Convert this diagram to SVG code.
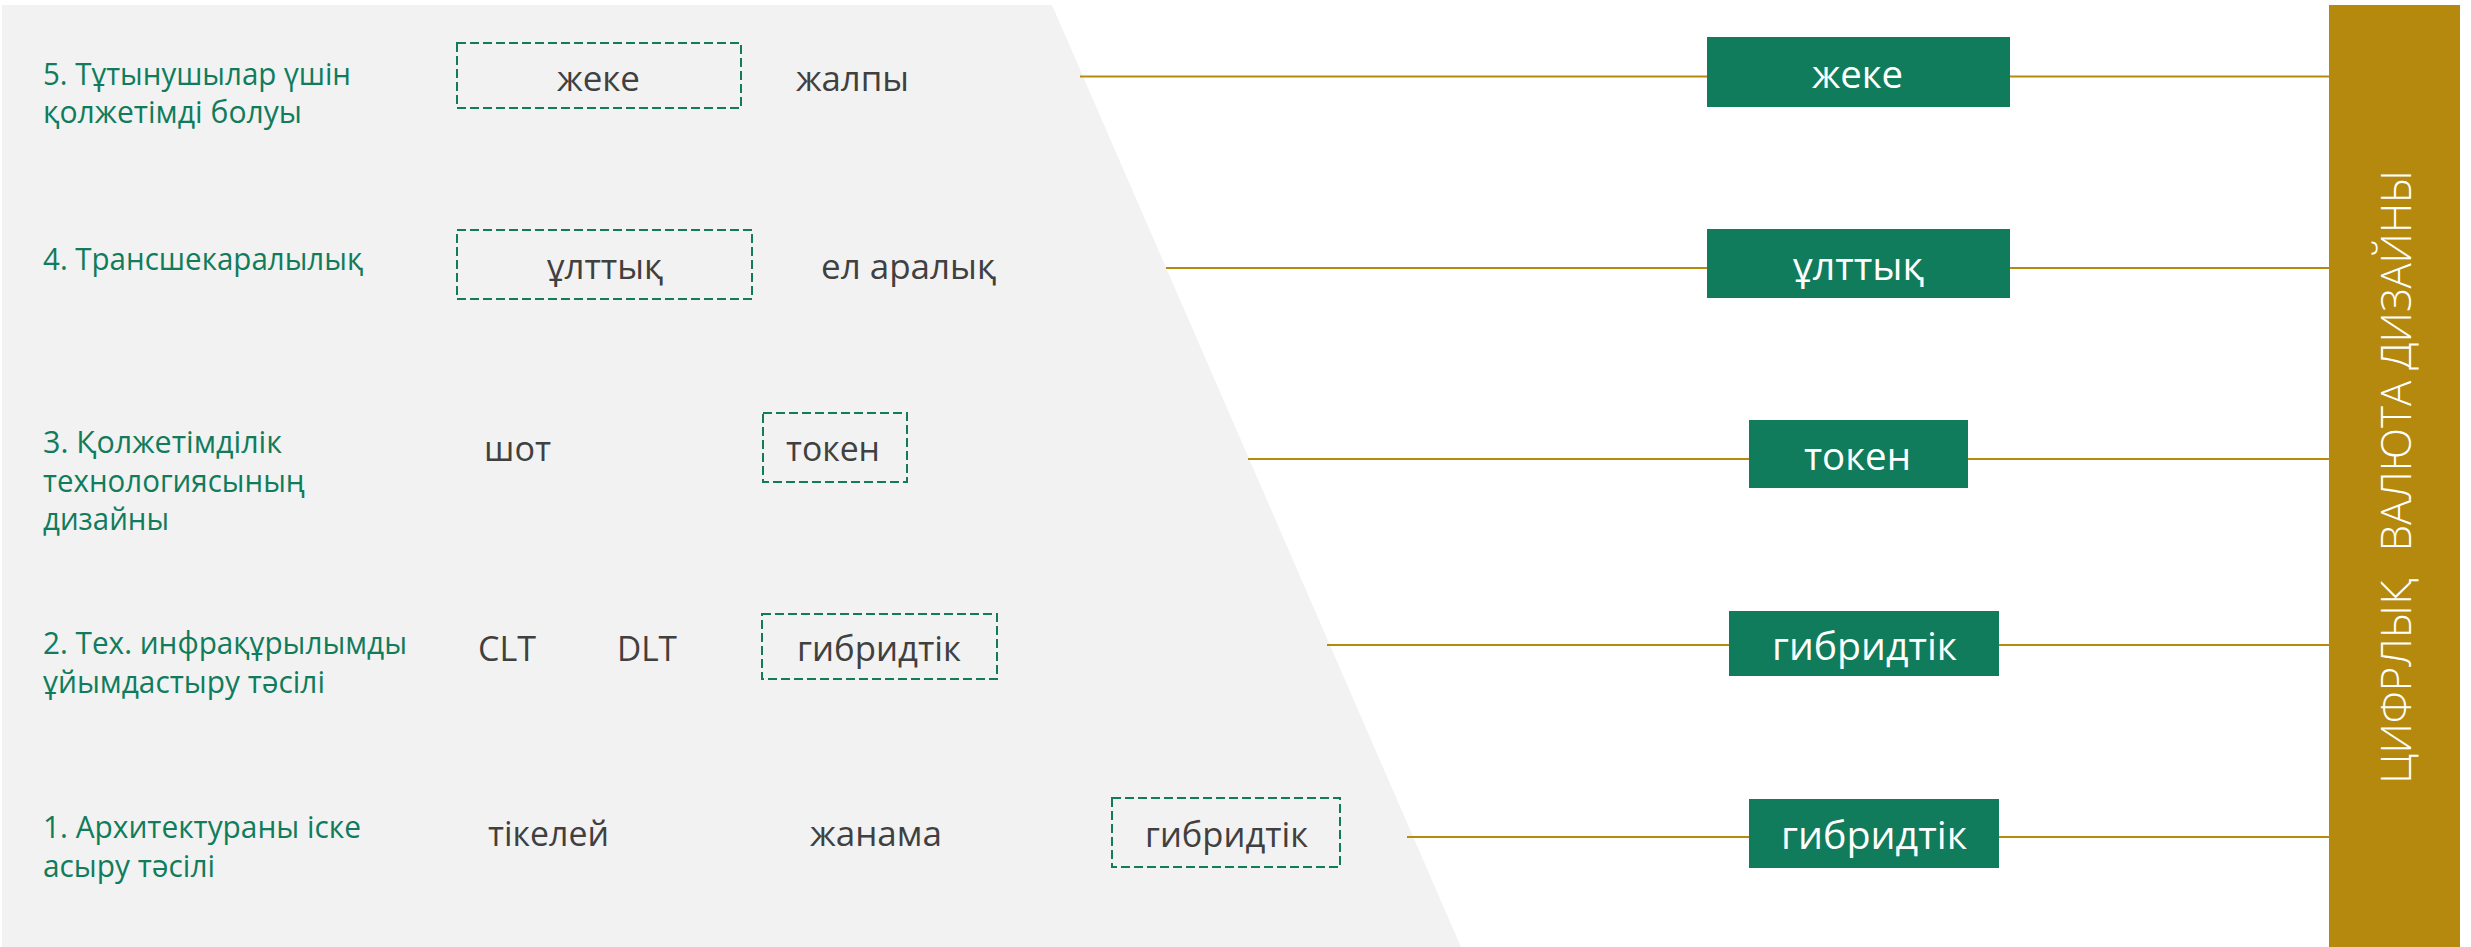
<svg xmlns="http://www.w3.org/2000/svg" width="2471" height="947" viewBox="0 0 2471 947">
<style>
text{font-family:"Open Sans","Noto Sans","DejaVu Sans",sans-serif}
.lbl{font-size:31px;fill:#107C5C}
.opt{font-size:35px;fill:#404040}
.sel{fill:none;stroke:#107C5C;stroke-width:2;stroke-dasharray:9 4}
.box{fill:#107C5C}
.boxt{font-size:38px;fill:#FFFFFF}
.conn{stroke:#B58A0E;stroke-width:2}
.bar{fill:#B5890E}
.bart{font-size:42px;font-weight:300;fill:#FFFFFF}
</style>
<rect x="0" y="0" width="2471" height="947" fill="#FFFFFF"/>
<polygon points="2,5 1052,5 1461,947 2,947" fill="#F2F2F2"/>
<g id="connectors">
<line class="conn" x1="1080" y1="76.5" x2="2329" y2="76.5"/>
<line class="conn" x1="1166" y1="268" x2="2329" y2="268"/>
<line class="conn" x1="1248" y1="459" x2="2329" y2="459"/>
<line class="conn" x1="1327" y1="645" x2="2329" y2="645"/>
<line class="conn" x1="1407" y1="837" x2="2329" y2="837"/>
</g>
<g id="row5">
<text class="lbl" x="43" y="84.5" textLength="308" lengthAdjust="spacingAndGlyphs">5. Тұтынушылар үшін</text>
<text class="lbl" x="43" y="123" textLength="259" lengthAdjust="spacingAndGlyphs">қолжетімді болуы</text>
<rect class="sel" x="457" y="43" width="284" height="65"/>
<text class="opt" x="557" y="91" textLength="83" lengthAdjust="spacingAndGlyphs">жеке</text>
<text class="opt" x="796" y="91" textLength="113" lengthAdjust="spacingAndGlyphs">жалпы</text>
</g>
<g id="row4">
<text class="lbl" x="43" y="270" textLength="320" lengthAdjust="spacingAndGlyphs">4. Трансшекаралылық</text>
<rect class="sel" x="457" y="230" width="295" height="69"/>
<text class="opt" x="547" y="279" textLength="116" lengthAdjust="spacingAndGlyphs">ұлттық</text>
<text class="opt" x="821" y="279" textLength="175" lengthAdjust="spacingAndGlyphs">ел аралық</text>
</g>
<g id="row3">
<text class="lbl" x="43" y="453" textLength="239" lengthAdjust="spacingAndGlyphs">3. Қолжетімділік</text>
<text class="lbl" x="43" y="492" textLength="262" lengthAdjust="spacingAndGlyphs">технологиясының</text>
<text class="lbl" x="43" y="530" textLength="126" lengthAdjust="spacingAndGlyphs">дизайны</text>
<text class="opt" x="484" y="461" textLength="67" lengthAdjust="spacingAndGlyphs">шот</text>
<rect class="sel" x="763" y="413" width="144" height="69"/>
<text class="opt" x="786" y="461" textLength="94" lengthAdjust="spacingAndGlyphs">токен</text>
</g>
<g id="row2">
<text class="lbl" x="43" y="654" textLength="364" lengthAdjust="spacingAndGlyphs">2. Тех. инфрақұрылымды</text>
<text class="lbl" x="43" y="693" textLength="282" lengthAdjust="spacingAndGlyphs">ұйымдастыру тәсілі</text>
<text class="opt" x="478" y="661" textLength="58" lengthAdjust="spacingAndGlyphs">CLT</text>
<text class="opt" x="617" y="661" textLength="60" lengthAdjust="spacingAndGlyphs">DLT</text>
<rect class="sel" x="762" y="614" width="235" height="65"/>
<text class="opt" x="797" y="661" textLength="164" lengthAdjust="spacingAndGlyphs">гибридтік</text>
</g>
<g id="row1">
<text class="lbl" x="43" y="838" textLength="318" lengthAdjust="spacingAndGlyphs">1. Архитектураны іске</text>
<text class="lbl" x="43" y="877" textLength="172" lengthAdjust="spacingAndGlyphs">асыру тәсілі</text>
<text class="opt" x="488" y="846" textLength="121" lengthAdjust="spacingAndGlyphs">тікелей</text>
<text class="opt" x="810" y="846" textLength="132" lengthAdjust="spacingAndGlyphs">жанама</text>
<rect class="sel" x="1112" y="798" width="228" height="69"/>
<text class="opt" x="1145" y="847" textLength="163" lengthAdjust="spacingAndGlyphs">гибридтік</text>
</g>
<g id="result5">
<rect class="box" x="1707" y="37" width="303" height="70"/>
<text class="boxt" x="1812" y="88" textLength="91" lengthAdjust="spacingAndGlyphs">жеке</text>
</g>
<g id="result4">
<rect class="box" x="1707" y="229" width="303" height="69"/>
<text class="boxt" x="1793" y="280" textLength="131" lengthAdjust="spacingAndGlyphs">ұлттық</text>
</g>
<g id="result3">
<rect class="box" x="1749" y="420" width="219" height="68"/>
<text class="boxt" x="1804" y="470" textLength="107" lengthAdjust="spacingAndGlyphs">токен</text>
</g>
<g id="result2">
<rect class="box" x="1729" y="611" width="270" height="65"/>
<text class="boxt" x="1772" y="660" textLength="185" lengthAdjust="spacingAndGlyphs">гибридтік</text>
</g>
<g id="result1">
<rect class="box" x="1749" y="799" width="250" height="69"/>
<text class="boxt" x="1781" y="849" textLength="186" lengthAdjust="spacingAndGlyphs">гибридтік</text>
</g>
<g id="title">
<rect class="bar" x="2329" y="5" width="131" height="942"/>
<text class="bart" transform="translate(2411 476.5) rotate(-90)" x="0" y="0" text-anchor="middle"><tspan>ЦИФРЛЫҚ </tspan><tspan dx="16">ВАЛЮТА ДИЗАЙНЫ</tspan></text>
</g>
</svg>
